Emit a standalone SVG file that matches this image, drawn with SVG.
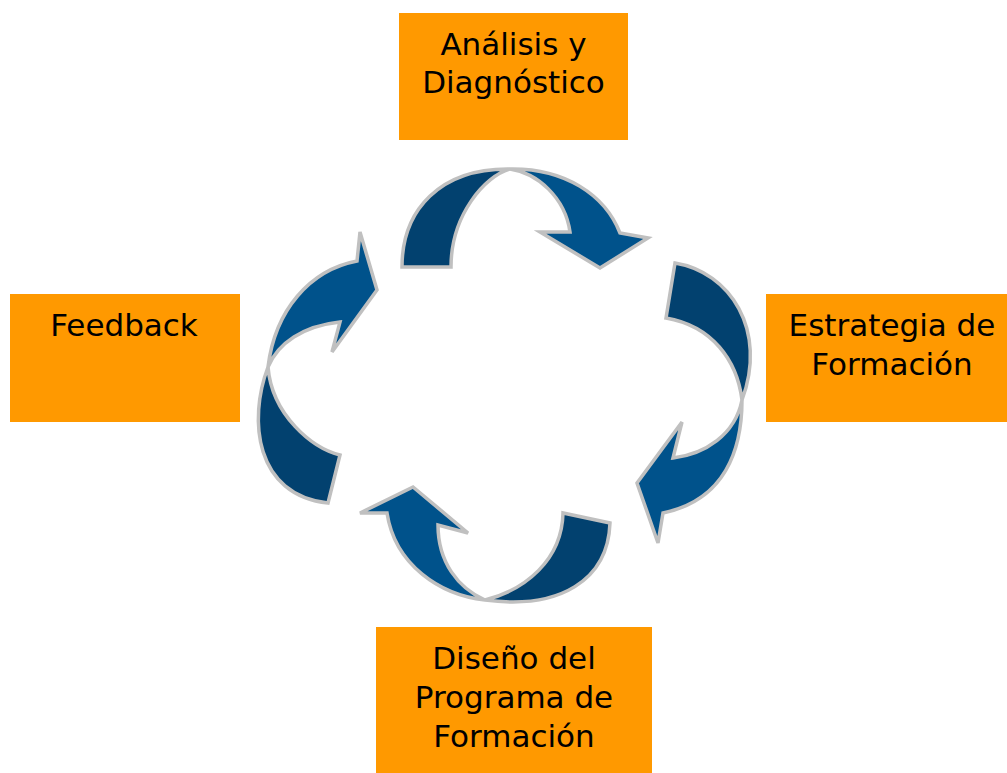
<svg xmlns="http://www.w3.org/2000/svg" width="1007" height="773" viewBox="0 0 1007 773">
<style>
.box{fill:#FF9900}
.lbl{font-family:"DejaVu Sans","Verdana",sans-serif;font-size:31px;fill:#000;text-anchor:middle}
.dk{fill:#02416F;stroke:#C0C0C0;stroke-width:3.5;stroke-linejoin:miter}
.lt{fill:#00528B;stroke:#C0C0C0;stroke-width:3.5;stroke-linejoin:miter}
</style>
<rect width="1007" height="773" fill="#FFFFFF"/>
<g id="connectors">
<path class="dk" d="M 402,267 C 402,210 440,168 510,169 C 485,176 451,215 451,267 Z"/>
<path class="lt" d="M 510,169 C 565,168 605,195 620,233 L 648,238 L 600,268 L 540,232 L 570,232 C 565,197 537,173 510,169 Z"/>
<path class="dk" d="M 675,263 C 730,272 768,330 742,400 C 737,360 712,326 666,318 Z"/>
<path class="lt" d="M 742,400 C 742,450 725,500 663,513 L 658,543 L 637,483 L 682,422 L 673,458 C 705,454 735,435 742,400 Z"/>
<path class="dk" d="M 610,523 C 608,580 560,610 485,600 C 525,590 562,560 563,513 Z"/>
<path class="lt" d="M 485,600 C 440,595 395,565 387,513 L 360,513 L 413,487 L 468,533 L 438,525 C 438,562 458,588 485,600 Z"/>
<path class="lt" d="M 268,367 C 275,310 310,270 357,261 L 360,232 L 377,290 L 332,352 L 340,322 C 303,326 278,343 268,367 Z"/>
<path class="dk" d="M 268,367 C 248,420 255,495 328,503 L 340,455 C 312,448 272,415 268,367 Z"/>
</g>
<g id="analisis">
<rect class="box" x="399" y="13" width="229" height="127"/>
<text class="lbl" x="513.5" y="55">Análisis y</text>
<text class="lbl" x="513.5" y="93">Diagnóstico</text>
</g>
<g id="estrategia">
<rect class="box" x="766" y="294" width="241" height="128"/>
<text class="lbl" x="892" y="336">Estrategia de</text>
<text class="lbl" x="892" y="375">Formación</text>
</g>
<g id="diseno">
<rect class="box" x="376" y="627" width="276" height="146"/>
<text class="lbl" x="514" y="669">Diseño del</text>
<text class="lbl" x="514" y="708">Programa de</text>
<text class="lbl" x="514" y="747">Formación</text>
</g>
<g id="feedback">
<rect class="box" x="10" y="294" width="230" height="128"/>
<text class="lbl" x="124" y="336">Feedback</text>
</g>
</svg>
